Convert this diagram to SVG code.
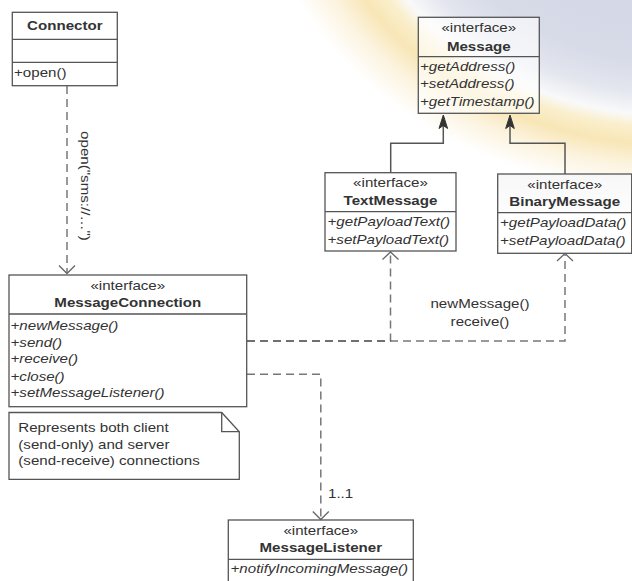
<svg xmlns="http://www.w3.org/2000/svg" width="632" height="581" viewBox="0 0 632 581">
<defs>
<radialGradient id="bg" gradientUnits="userSpaceOnUse" cx="680" cy="-150" r="425" gradientTransform="translate(680 -150) scale(1 0.809) translate(-680 150)">
<stop offset="0" stop-color="#cdd2e3"/>
<stop offset="0.62" stop-color="#d7dbe8"/>
<stop offset="0.71" stop-color="#e3e6ee"/>
<stop offset="0.775" stop-color="#f9f9fa"/>
<stop offset="0.81" stop-color="#faefcd"/>
<stop offset="0.86" stop-color="#f8e6b6"/>
<stop offset="0.92" stop-color="#fcf3de"/>
<stop offset="1" stop-color="#ffffff"/>
</radialGradient>
<linearGradient id="hdr" x1="0" y1="0" x2="0" y2="1">
<stop offset="0" stop-color="#e6e6e6"/>
<stop offset="1" stop-color="#f8f8f8"/>
</linearGradient>
<style>
.box{fill:#fff;fill-opacity:.62;stroke:#555;stroke-width:1.3}
.div{stroke:#555;stroke-width:1.3;fill:none}
.t{font-family:"Liberation Sans",Arial,Helvetica,sans-serif;font-size:12.6px;fill:#333}
.b{font-weight:bold}
.i{font-style:italic}
.m{text-anchor:middle}
.gen{stroke:#555;stroke-width:1.5;fill:none}
.genh{fill:#333;stroke:#333;stroke-width:1;stroke-linejoin:round}
.dep{stroke:#555;stroke-opacity:.8;stroke-width:1.5;fill:none;stroke-dasharray:8 5}
.deph{stroke:#666;stroke-width:1.3;fill:none}
</style>
</defs>
<rect x="0" y="0" width="632" height="581" fill="url(#bg)"/>

<g id="connectors">
<path class="dep" d="M67,86 V273"/>
<path class="deph" d="M59,265.5 L67,273.5 L75,265.5"/>
<path class="dep" d="M247,341 H390.5 V253"/>
<path class="deph" d="M382.5,259.5 L390.5,252 L398.5,259.5"/>
<path class="dep" d="M247,341 H565 V255"/>
<path class="deph" d="M557,261 L565,253.5 L573,261"/>
<path class="dep" d="M247,374.3 H320.8 V519"/>
<path class="deph" d="M312.8,511.5 L320.8,519.5 L328.8,511.5"/>
<path class="gen" d="M443.3,125 V143.3 H390.7 V172.7"/>
<path class="genh" d="M443.3,115 L439,128.5 L443.3,125.5 L447.6,128.5 Z"/>
<path class="gen" d="M510,125 V143.3 H565 V174"/>
<path class="genh" d="M510,115 L505.7,128.5 L510,125.5 L514.3,128.5 Z"/>
<text class="t" transform="matrix(0 1.2 -1 0 81 186)" text-anchor="middle">open("sms://…")</text>
<text class="t m" transform="matrix(1.2 0 0 1 480 307.5)">newMessage()</text>
<text class="t m" transform="matrix(1.2 0 0 1 480 326)">receive()</text>
<text class="t" transform="matrix(1.2 0 0 1 328 497.5)">1..1</text>
</g>

<g id="Connector">
<rect class="box" x="12.3" y="12.3" width="105" height="73.4"/>
<path class="div" d="M12.3,39.3 H117.3 M12.3,62.3 H117.3"/>
<text class="t b m" transform="matrix(1.2 0 0 1 64.8 29.5)">Connector</text>
<text class="t" transform="matrix(1.2 0 0 1 14 76.5)">+open()</text>
</g>

<g id="Message">
<rect class="box" x="418.3" y="17.3" width="121" height="96"/>
<path class="div" d="M418.3,56.7 H539.3"/>
<text class="t m" transform="matrix(1.2 0 0 1 478.8 32)">«interface»</text>
<text class="t b m" transform="matrix(1.2 0 0 1 478.8 50.5)">Message</text>
<text class="t i" transform="matrix(1.2 0 0 1 420 70.5)">+getAddress()</text>
<text class="t i" transform="matrix(1.2 0 0 1 420 88)">+setAddress()</text>
<text class="t i" transform="matrix(1.2 0 0 1 420 106)">+getTimestamp()</text>
</g>

<g id="TextMessage">
<rect class="box" x="325" y="172.7" width="131" height="78.3"/>
<path class="div" d="M325,211.7 H456"/>
<text class="t m" transform="matrix(1.2 0 0 1 390.5 187)">«interface»</text>
<text class="t b m" transform="matrix(1.2 0 0 1 390.5 205)">TextMessage</text>
<text class="t i" transform="matrix(1.2 0 0 1 327.5 225.5)">+getPayloadText()</text>
<text class="t i" transform="matrix(1.2 0 0 1 327.5 243.5)">+setPayloadText()</text>
</g>

<g id="BinaryMessage">
<rect x="497.7" y="174" width="134" height="38.7" fill="url(#hdr)" fill-opacity=".8"/>
<rect class="box" x="497.7" y="174" width="134" height="79.3" fill-opacity=".3"/>
<path class="div" d="M497.7,212.7 H631.7"/>
<text class="t m" transform="matrix(1.2 0 0 1 564.7 188.5)">«interface»</text>
<text class="t b m" transform="matrix(1.2 0 0 1 564.7 206.3)">BinaryMessage</text>
<text class="t i" transform="matrix(1.2 0 0 1 500 226.5)">+getPayloadData()</text>
<text class="t i" transform="matrix(1.2 0 0 1 500 244.5)">+setPayloadData()</text>
</g>

<g id="MessageConnection">
<rect class="box" x="9" y="275" width="237.7" height="131.7"/>
<path class="div" d="M9,314 H246.7"/>
<text class="t m" transform="matrix(1.2 0 0 1 127.8 289.5)">«interface»</text>
<text class="t b m" transform="matrix(1.2 0 0 1 127.8 307)">MessageConnection</text>
<text class="t i" transform="matrix(1.2 0 0 1 10.5 330)">+newMessage()</text>
<text class="t i" transform="matrix(1.2 0 0 1 10.5 346.7)">+send()</text>
<text class="t i" transform="matrix(1.2 0 0 1 10.5 363.3)">+receive()</text>
<text class="t i" transform="matrix(1.2 0 0 1 10.5 380.5)">+close()</text>
<text class="t i" transform="matrix(1.2 0 0 1 10.5 397.3)">+setMessageListener()</text>
</g>

<g id="Note">
<path class="box" d="M9,412.5 H221.7 L239.3,431.7 V479.3 H9 Z"/>
<path class="div" d="M221.7,412.5 V431.7 H239.3"/>
<text class="t" transform="matrix(1.2 0 0 1 18.3 432)">Represents both client</text>
<text class="t" transform="matrix(1.2 0 0 1 18.3 448.5)">(send-only) and server</text>
<text class="t" transform="matrix(1.2 0 0 1 18.3 465)">(send-receive) connections</text>
</g>

<g id="MessageListener">
<rect class="box" x="228.3" y="520" width="185" height="70"/>
<path class="div" d="M228.3,559.3 H413.3"/>
<text class="t m" transform="matrix(1.2 0 0 1 320.8 534.5)">«interface»</text>
<text class="t b m" transform="matrix(1.2 0 0 1 320.8 552.3)">MessageListener</text>
<text class="t i" transform="matrix(1.2 0 0 1 230.5 572.5)">+notifyIncomingMessage()</text>
</g>
</svg>
